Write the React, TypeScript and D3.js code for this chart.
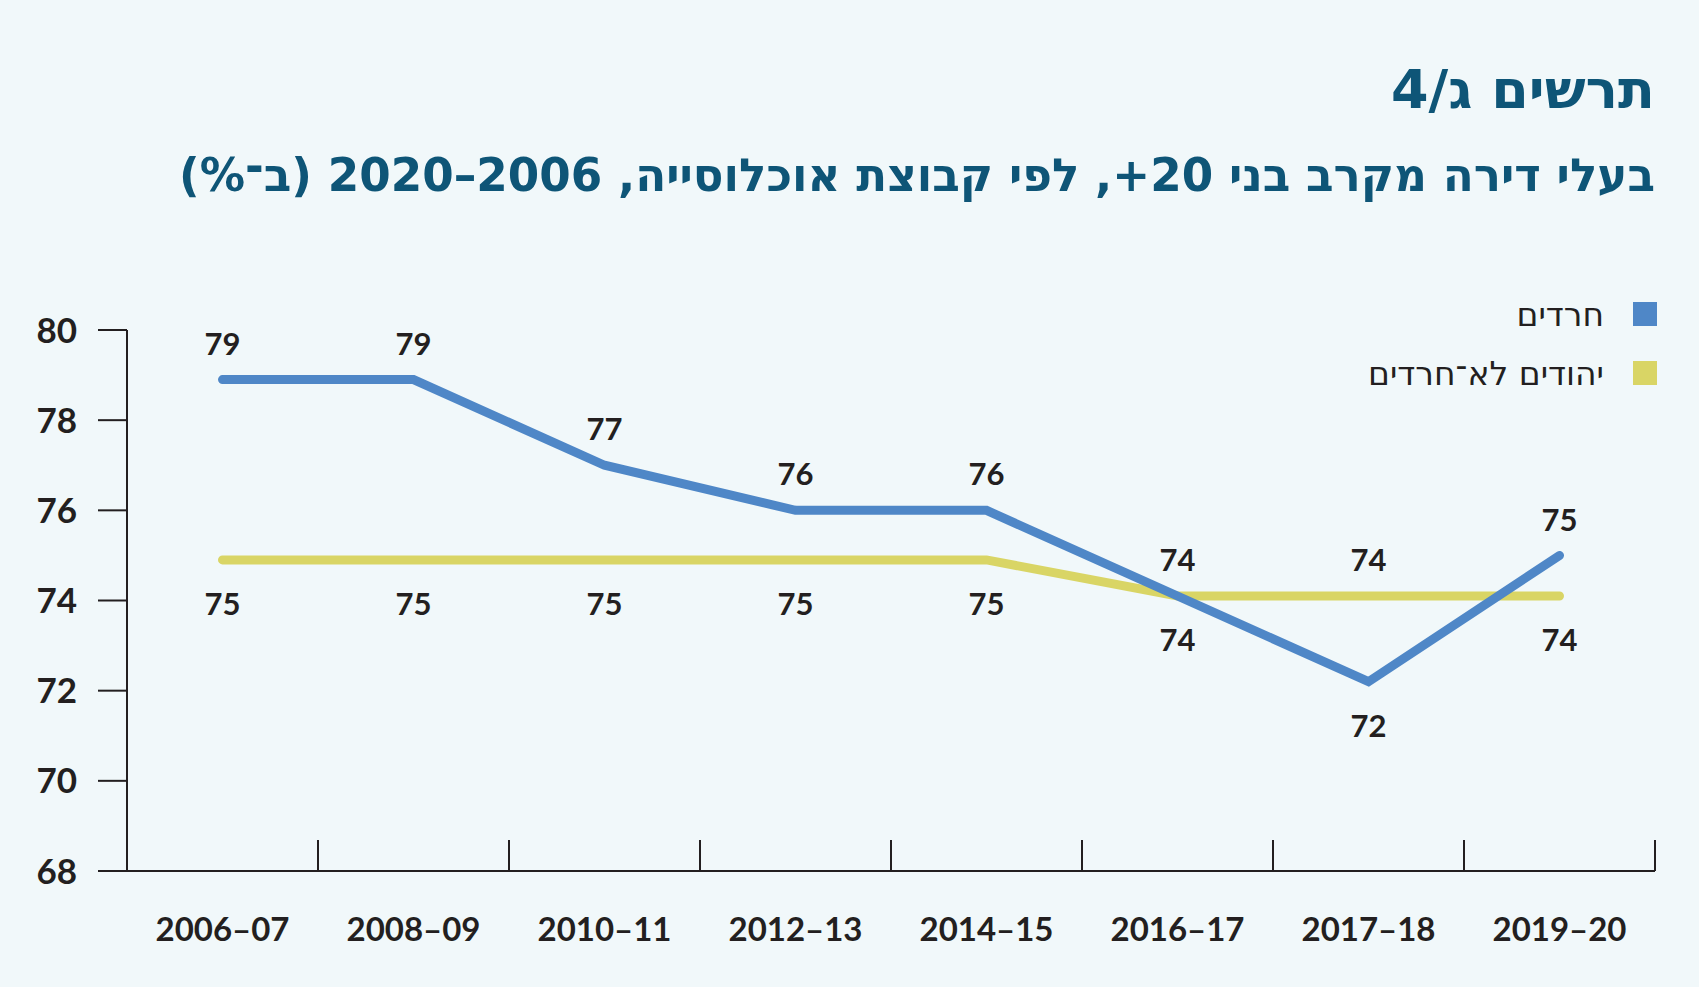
import React from "react";
import * as d3 from "d3";

const periods = ["2006–07", "2008–09", "2010–11", "2012–13", "2014–15", "2016–17", "2017–18", "2019–20"];
const haredi = [78.9, 78.9, 77.0, 76.0, 76.0, 74.1, 72.2, 75.0];
const nonHaredi = [74.9, 74.9, 74.9, 74.9, 74.9, 74.1, 74.1, 74.1];
// where each value label sits relative to its point
const harediLabelPos = ["above", "above", "above", "above", "above", "below", "below", "above"];
const nonHarediLabelPos = ["below", "below", "below", "below", "below", "above", "above", "below"];
const yTicks = [68, 70, 72, 74, 76, 78, 80];

const seriesNames = ["חרדים", "יהודים לא־חרדים"];
const seriesColors = ["#4f87c7", "#d9d565"];

const title = "תרשים ג/4";
const subtitle = "בעלי דירה מקרב בני 20+, לפי קבוצת אוכלוסייה, 2006–2020 (ב־%)";

const W = 1699;
const H = 987;
const margin = {top: 330, right: 44, bottom: 116, left: 127};
const axisColor = "#231f20";
const numFont = "Lato, 'DejaVu Sans', sans-serif";
const hebFont = "'DejaVu Sans Condensed', 'DejaVu Sans', sans-serif";

const App: React.FC = () => {
	const x = d3
		.scaleBand<string>()
		.domain(periods)
		.range([margin.left, W - margin.right]);
	const y = d3
		.scaleLinear()
		.domain([68, 80])
		.range([H - margin.bottom, margin.top]);
	const cx = (p: string) => (x(p) || 0) + x.bandwidth() / 2;

	const line = d3
		.line<number>()
		.x((_, i) => cx(periods[i]))
		.y((d) => y(d));

	const series = [
		{values: haredi, pos: harediLabelPos, color: seriesColors[0]},
		{values: nonHaredi, pos: nonHarediLabelPos, color: seriesColors[1]},
	];

	const baseY = y(68);

	return (
		<svg
			width={W}
			height={H}
			style={{position: "absolute", left: 0, top: 0, background: "#f1f8fa"}}
		>
			{/* Titles */}
			<text
				x={1655}
				y={108}
				direction="rtl"
				textAnchor="start"
				fontFamily={hebFont}
				fontWeight="bold"
				fontSize={53}
				textLength={264}
				lengthAdjust="spacingAndGlyphs"
				fill="#0e5577"
			>
				{title}
			</text>
			<text
				x={1655}
				y={191}
				direction="rtl"
				textAnchor="start"
				fontFamily={hebFont}
				fontWeight="bold"
				fontSize={46}
				textLength={1476}
				lengthAdjust="spacingAndGlyphs"
				fill="#0e5577"
			>
				{subtitle}
			</text>

			{/* Legend */}
			{seriesNames.map((name, i) => (
				<g key={name} transform={`translate(0, ${302 + i * 59})`}>
					<rect x={1633} y={0} width={24} height={24} fill={seriesColors[i]} />
					<text
						x={1604}
						y={12}
						dy="0.35em"
						direction="rtl"
						textAnchor="start"
						fontFamily="'DejaVu Sans', sans-serif"
						fontSize={33}
						fill={axisColor}
					>
						{name}
					</text>
				</g>
			))}

			{/* Y axis */}
			<line x1={margin.left} x2={margin.left} y1={y(80)} y2={baseY} stroke={axisColor} strokeWidth={2} />
			{yTicks.map((t) => (
				<g key={t}>
					<line x1={margin.left - 29} x2={margin.left} y1={y(t)} y2={y(t)} stroke={axisColor} strokeWidth={2} />
					<text
						x={77}
						y={y(t)}
						dy="0.36em"
						textAnchor="end"
						fontFamily={numFont}
						fontWeight="bold"
						fontSize={35}
						fill={axisColor}
					>
						{t}
					</text>
				</g>
			))}

			{/* X axis */}
			<line x1={margin.left} x2={W - margin.right} y1={baseY} y2={baseY} stroke={axisColor} strokeWidth={2} />
			{periods.map((p) => (
				<g key={p}>
					<line
						x1={(x(p) || 0) + x.bandwidth()}
						x2={(x(p) || 0) + x.bandwidth()}
						y1={baseY - 31}
						y2={baseY}
						stroke={axisColor}
						strokeWidth={2}
					/>
					<text
						x={cx(p)}
						y={929}
						dy="0.36em"
						textAnchor="middle"
						fontFamily={numFont}
						fontWeight="bold"
						fontSize={33}
						fill={axisColor}
					>
						{p}
					</text>
				</g>
			))}

			{/* Lines: yellow underneath where they cross */}
			{[...series].reverse().map((s) => (
				<path
					key={s.color}
					d={line(s.values) || ""}
					fill="none"
					stroke={s.color}
					strokeWidth={9}
					strokeLinecap="round"
					strokeLinejoin="miter"
				/>
			))}

			{/* Value labels */}
			{series.map((s) =>
				s.values.map((v, i) => (
					<text
						key={`${s.color}-${i}`}
						x={cx(periods[i])}
						y={y(v) + (s.pos[i] === "above" ? -36 : 44)}
						dy="0.36em"
						textAnchor="middle"
						fontFamily={numFont}
						fontWeight="bold"
						fontSize={31}
						fill={axisColor}
					>
						{Math.round(v)}
					</text>
				))
			)}
		</svg>
	);
};

export default App;
